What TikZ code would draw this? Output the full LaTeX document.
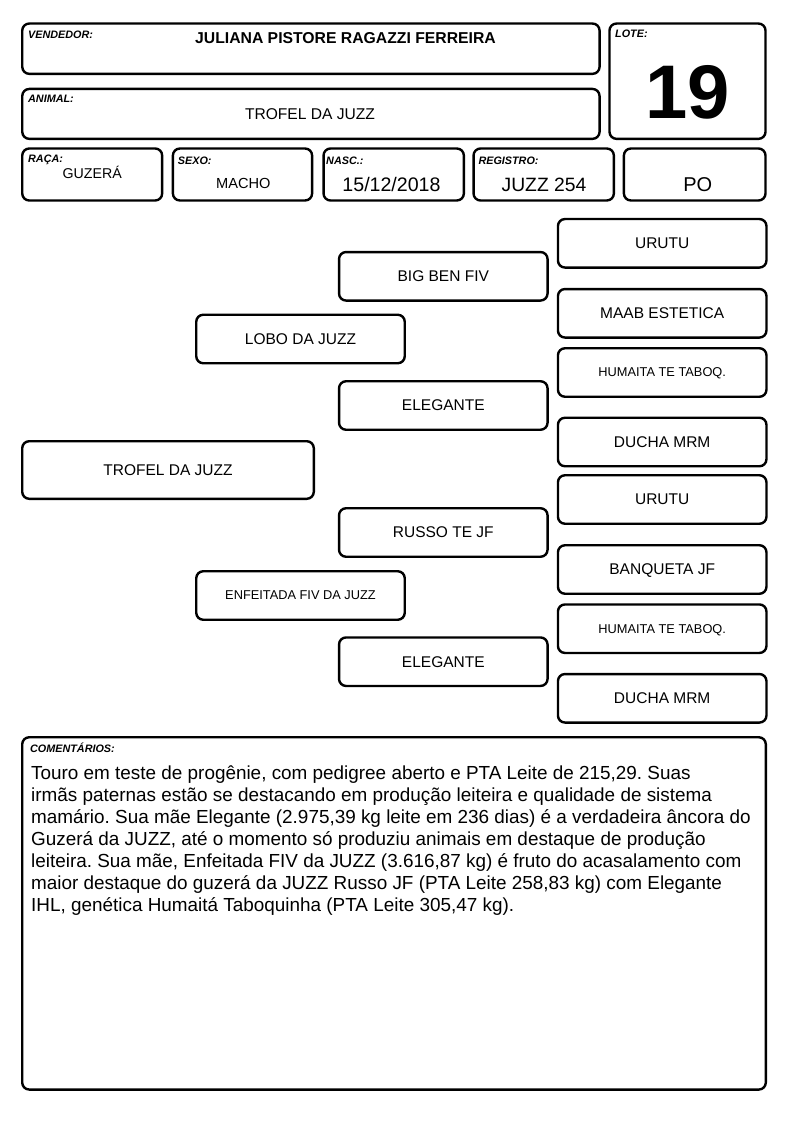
\documentclass[tikz,border=0pt]{standalone}
\usepackage{fontspec}
\setmainfont{Liberation Sans}
\frenchspacing
\tikzset{
  cell/.style={draw, line width=2.4pt, rounded corners=7pt, inner sep=0pt},
  pedbox/.style={cell, minimum width=208.5pt, minimum height=48.5pt, text depth=0pt, font=\fontsize{15.5}{18}\selectfont},
  smallped/.style={pedbox, font=\fontsize{12.8}{15}\selectfont},
  fieldlabel/.style={anchor=base west, inner sep=0pt, font=\fontsize{10.8}{13}\selectfont\bfseries\itshape},
  fieldvalue/.style={anchor=base, inner sep=0pt},
  commentline/.style={anchor=base west, inner sep=0pt, font=\fontsize{18.9}{22.1}\selectfont}
}

\begin{document}
\begin{tikzpicture}[x=1pt, y=-1pt]
  \fill[white] (0,0) rectangle (794,1123);
  \useasboundingbox (0,0) rectangle (794,1123);

  % header cells
  \node[cell, minimum width=577.3pt, minimum height=50.3pt] (vend) at (310.9,48.7) {};
  \node[cell, minimum width=577.3pt, minimum height=49.9pt] (anim) at (310.9,113.9) {};
  \node[cell, minimum width=156pt, minimum height=115.3pt] (lote) at (687.5,81.2) {};
  \node[cell, minimum width=139.9pt, minimum height=52pt] (raca) at (92.2,174.5) {};
  \node[cell, minimum width=139.2pt, minimum height=52pt] (sexo) at (242.5,174.5) {};
  \node[cell, minimum width=140.3pt, minimum height=52pt] (nasc) at (393.7,174.5) {};
  \node[cell, minimum width=140.3pt, minimum height=52pt] (reg) at (543.7,174.5) {};
  \node[cell, minimum width=141.6pt, minimum height=52pt] (po) at (694.7,174.5) {};

  \node[fieldlabel] (vendlbl) at (28,38.3) {VENDEDOR:};
  \node[fieldlabel] (lotelbl) at (615,37.7) {LOTE:};
  \node[fieldlabel] (animlbl) at (28,102.3) {ANIMAL:};
  \node[fieldlabel] (racalbl) at (28,162.7) {RAÇA:};
  \node[fieldlabel] (sexolbl) at (177.7,164.3) {SEXO:};
  \node[fieldlabel] (nasclbl) at (326,164.3) {NASC.:};
  \node[fieldlabel] (reglbl) at (478.3,164.3) {REGISTRO:};

  \node[fieldvalue, font=\fontsize{15.75}{19}\selectfont\bfseries] (vendval) at (345.5,43.3) {JULIANA PISTORE RAGAZZI FERREIRA};
  \node[fieldvalue, font=\fontsize{15.6}{19}\selectfont] (animval) at (310,119.3) {TROFEL DA JUZZ};
  \node[fieldvalue, font=\fontsize{76}{80}\selectfont\bfseries] (loteval) at (687.5,118.3) {19};
  \node[fieldvalue, font=\fontsize{14.2}{17}\selectfont] (racaval) at (92.2,178.3) {GUZERÁ};
  \node[fieldvalue, font=\fontsize{14.6}{17}\selectfont] (sexoval) at (243.3,189) {MACHO};
  \node[fieldvalue, font=\fontsize{19.6}{23}\selectfont] (nascval) at (391.5,191.7) {15/12/2018};
  \node[fieldvalue, font=\fontsize{19.3}{23}\selectfont] (regval) at (544,191.7) {JUZZ 254};
  \node[fieldvalue, font=\fontsize{20}{24}\selectfont] (poval) at (697.8,191.7) {PO};

  % pedigree
  \node[pedbox, minimum width=291.6pt, minimum height=57.6pt] (animal) at (168,470) {TROFEL DA JUZZ};
  \node[pedbox] (sire) at (300.5,339) {LOBO DA JUZZ};
  \node[smallped] (dam) at (300.5,595.5) {ENFEITADA FIV DA JUZZ};
  \node[pedbox] (ss) at (443.3,276.3) {BIG BEN FIV};
  \node[pedbox] (sd) at (443.3,405.5) {ELEGANTE};
  \node[pedbox] (ds) at (443.3,532.5) {RUSSO TE JF};
  \node[pedbox] (dd) at (443.3,661.7) {ELEGANTE};
  \foreach \n/\y/\s/\t in {sss/243.3/pedbox/URUTU, ssd/313.3/pedbox/MAAB ESTETICA,
                           sds/372.5/smallped/HUMAITA TE TABOQ., sdd/442/pedbox/DUCHA MRM,
                           dss/499.5/pedbox/URUTU, dsd/569.5/pedbox/BANQUETA JF,
                           dds/628.7/smallped/HUMAITA TE TABOQ., ddd/698.3/pedbox/DUCHA MRM} {
    \node[\s] (\n) at (662.2,\y) {\t};
  }

  % comments
  \node[cell, minimum width=743.6pt, minimum height=352.3pt] (com) at (394,913.4) {};
  \node[fieldlabel] (comlbl) at (30,752.7) {COMENTÁRIOS:};
  \foreach \i/\t in {0/{Touro em teste de progênie, com pedigree aberto e PTA Leite de 215,29. Suas},
                     1/{irmãs paternas estão se destacando em produção leiteira e qualidade de sistema},
                     2/{mamário. Sua mãe Elegante (2.975,39 kg leite em 236 dias) é a verdadeira âncora do},
                     3/{Guzerá da JUZZ, até o momento só produziu animais em destaque de produção},
                     4/{leiteira. Sua mãe, Enfeitada FIV da JUZZ (3.616,87 kg) é fruto do acasalamento com},
                     5/{maior destaque do guzerá da JUZZ Russo JF (PTA Leite 258,83 kg) com Elegante},
                     6/{IHL, genética Humaitá Taboquinha (PTA Leite 305,47 kg).}} {
    \node[commentline] (c\i) at (31,779+22.1*\i) {\t};
  }
\end{tikzpicture}
\end{document}
